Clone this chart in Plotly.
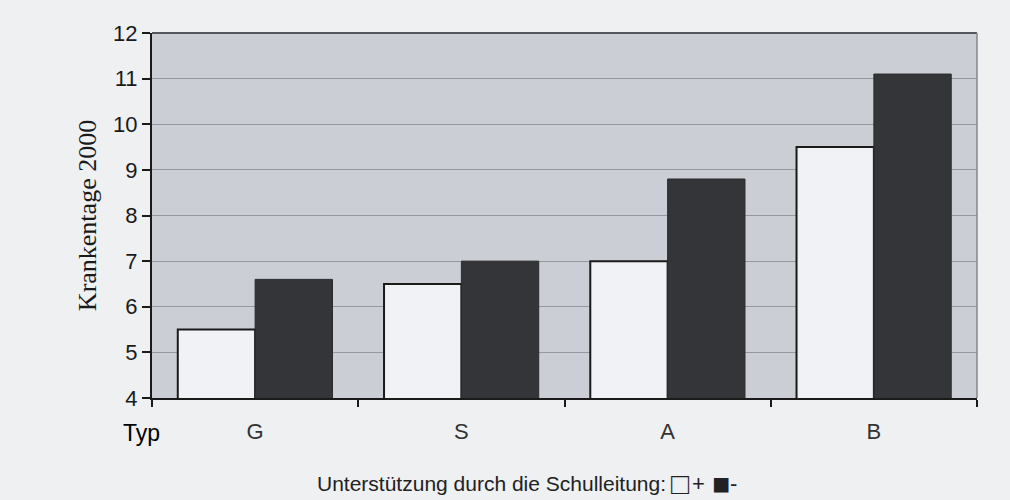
import plotly.graph_objects as go

# Krankentage 2000 nach Schultyp und Unterstützung durch die Schulleitung
schultyp = ["G", "S", "A", "B"]
unterstuetzung_plus = [5.5, 6.5, 7.0, 9.5]
unterstuetzung_minus = [6.6, 7.0, 8.8, 11.1]
y_ticks = [4, 5, 6, 7, 8, 9, 10, 11, 12]

fig = go.Figure()
fig.add_trace(go.Bar(
    x=schultyp, y=unterstuetzung_plus, base=0, name="+",
    marker=dict(color="#f1f2f5", line=dict(color="#1a1a1a", width=2)),
    showlegend=False,
))
fig.add_trace(go.Bar(
    x=schultyp, y=unterstuetzung_minus, base=0, name="-",
    marker=dict(color="#343539", line=dict(color="#2a2a2e", width=1)),
    showlegend=False,
))

# legend row below the chart: caption followed by symbol/label pairs
legend_row_y = -0.233
legend_items = [
    ("Unterstützung durch die Schulleitung:", 0.6255, "right", 21),
    ("□", 0.640, "center", 30),
    ("+", 0.662, "center", 22),
    ("■", 0.690, "center", 30),
    ("-", 0.705, "center", 22),
]

annotations = [
    dict(text="Krankentage 2000", xref="paper", yref="paper",
         x=-0.078, y=0.5, xanchor="center", yanchor="middle",
         textangle=-90, showarrow=False,
         font=dict(family="Liberation Serif, Times New Roman, serif",
                   size=26, color="#1a1a1a")),
    dict(text="Typ", xref="paper", yref="paper", x=-0.038, y=-0.095,
         xanchor="left", yanchor="middle", showarrow=False,
         font=dict(size=23, color="#000")),
]
for text, xpos, anchor, size in legend_items:
    annotations.append(dict(
        text=text, xref="paper", yref="paper", x=xpos, y=legend_row_y,
        xanchor=anchor, yanchor="middle", showarrow=False,
        font=dict(size=size, color="#222"),
    ))

fig.update_layout(
    width=1010, height=500,
    margin=dict(l=152, r=33, t=33, b=102),
    paper_bgcolor="#eef0f2",
    plot_bgcolor="#cbced5",
    barmode="group", bargap=0.25, bargroupgap=0,
    font=dict(family="Liberation Sans, Arial, sans-serif", color="#222"),
    xaxis=dict(
        type="category", tickson="boundaries", ticks="outside", ticklen=7,
        tickwidth=2, tickcolor="#1a1a1a", showline=True, linecolor="#1a1a1a",
        linewidth=2, showgrid=False, tickfont=dict(size=22, color="#333"),
        ticklabelstandoff=13,
    ),
    yaxis=dict(
        range=[4, 12], tickvals=y_ticks, ticks="outside", ticklen=8,
        tickwidth=2, tickcolor="#1a1a1a", showline=True, linecolor="#1a1a1a",
        linewidth=2, showgrid=True, gridcolor="#95989f", gridwidth=1,
        zeroline=False, tickfont=dict(size=22, color="#1a1a1a"),
    ),
    shapes=[
        dict(type="line", xref="paper", yref="paper", x0=0, x1=1, y0=1, y1=1,
             line=dict(color="#55575c", width=2)),
        dict(type="line", xref="paper", yref="paper", x0=1, x1=1, y0=0, y1=1,
             line=dict(color="#85878c", width=1.5)),
    ],
    annotations=annotations,
)

fig.write_html("out.html")
